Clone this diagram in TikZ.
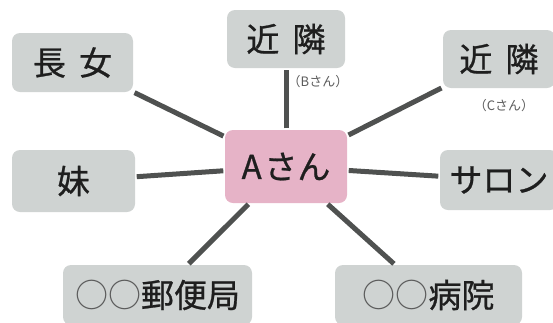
\documentclass[tikz,border=0pt]{standalone}
\usepackage{fontspec}
\newfontfamily\jpfont{Noto Sans CJK JP}
\newfontfamily\jpheavy[FakeBold=0.8]{Noto Sans CJK JP}
\usetikzlibrary{positioning}
\definecolor{boxgray}{HTML}{CFD3D2}
\definecolor{boxpink}{HTML}{E6B3C7}
\definecolor{linkgray}{HTML}{4F5150}
\definecolor{inkblack}{HTML}{1E1E1E}
\definecolor{circgray}{HTML}{5C5C5C}
\tikzset{
        x=1pt, y=-1pt, % one unit is one pixel of the picture, y runs down
        person/.style={rounded corners=8pt, fill=boxgray, inner sep=0pt, text=inkblack,
                font=\jpheavy\fontsize{33}{36}\selectfont}, % grey box round a name
        self/.style={person, fill=boxpink}, % the pink box in the middle
        size/.style 2 args={minimum width=#1, minimum height=#2},
        sublabel/.style={inner sep=0pt, text=circgray, font=\jpfont\fontsize{13}{15}\selectfont},
        link/.style={draw=linkgray, line width=5pt, shorten <=1.5pt, shorten >=1.5pt},
}
\def\gap{\hspace{0.4em}}
\def\maru{{\jpfont\color{circgray}○○}}

\begin{document}
\begin{tikzpicture}
      \useasboundingbox (0,0) rectangle (553,322);
      \clip (0,0) rectangle (553,322);
      % the middle
      \node[self, size={122pt}{73pt}] (asan) at (286,166.5) {A\hspace{0.08em}さん};
      % round it
      \node[person, size={121pt}{59pt}] (nagajo) at (72.5,62.5) {長\gap 女};
      \node[person, size={118pt}{58pt}] (kinrinB) at (286,39) {近\gap 隣};
      \node[person, size={112pt}{58pt}] (kinrinC) at (499,59) {近\gap 隣};
      \node[person, size={123pt}{62pt}] (imouto) at (73.5,181) {妹};
      \node[person, size={118pt}{60pt}] (salon) at (499,180) {サロン};
      \node[person, size={189pt}{60pt}] (yubin) at (157.5,295) {\maru 郵便局};
      \node[person, size={187pt}{60pt}] (byoin) at (428.5,295) {\maru 病院};
      \node[sublabel, below=7pt of kinrinB.south, xshift=32pt] (labelB) {（Bさん）};
      \node[sublabel, below=11pt of kinrinC, xshift=5pt] (labelC) {（Cさん）};
      % links
      \draw[link] (asan) -- (nagajo);
      \draw[link] (asan) -- (kinrinB);
      \draw[link] (asan) -- (kinrinC);
      \draw[link] (asan) -- (imouto);
      \draw[link] (asan) -- (salon);
      \draw[link] (asan) -- (yubin);
      \draw[link] (asan) -- (byoin);
\end{tikzpicture}
\end{document}
